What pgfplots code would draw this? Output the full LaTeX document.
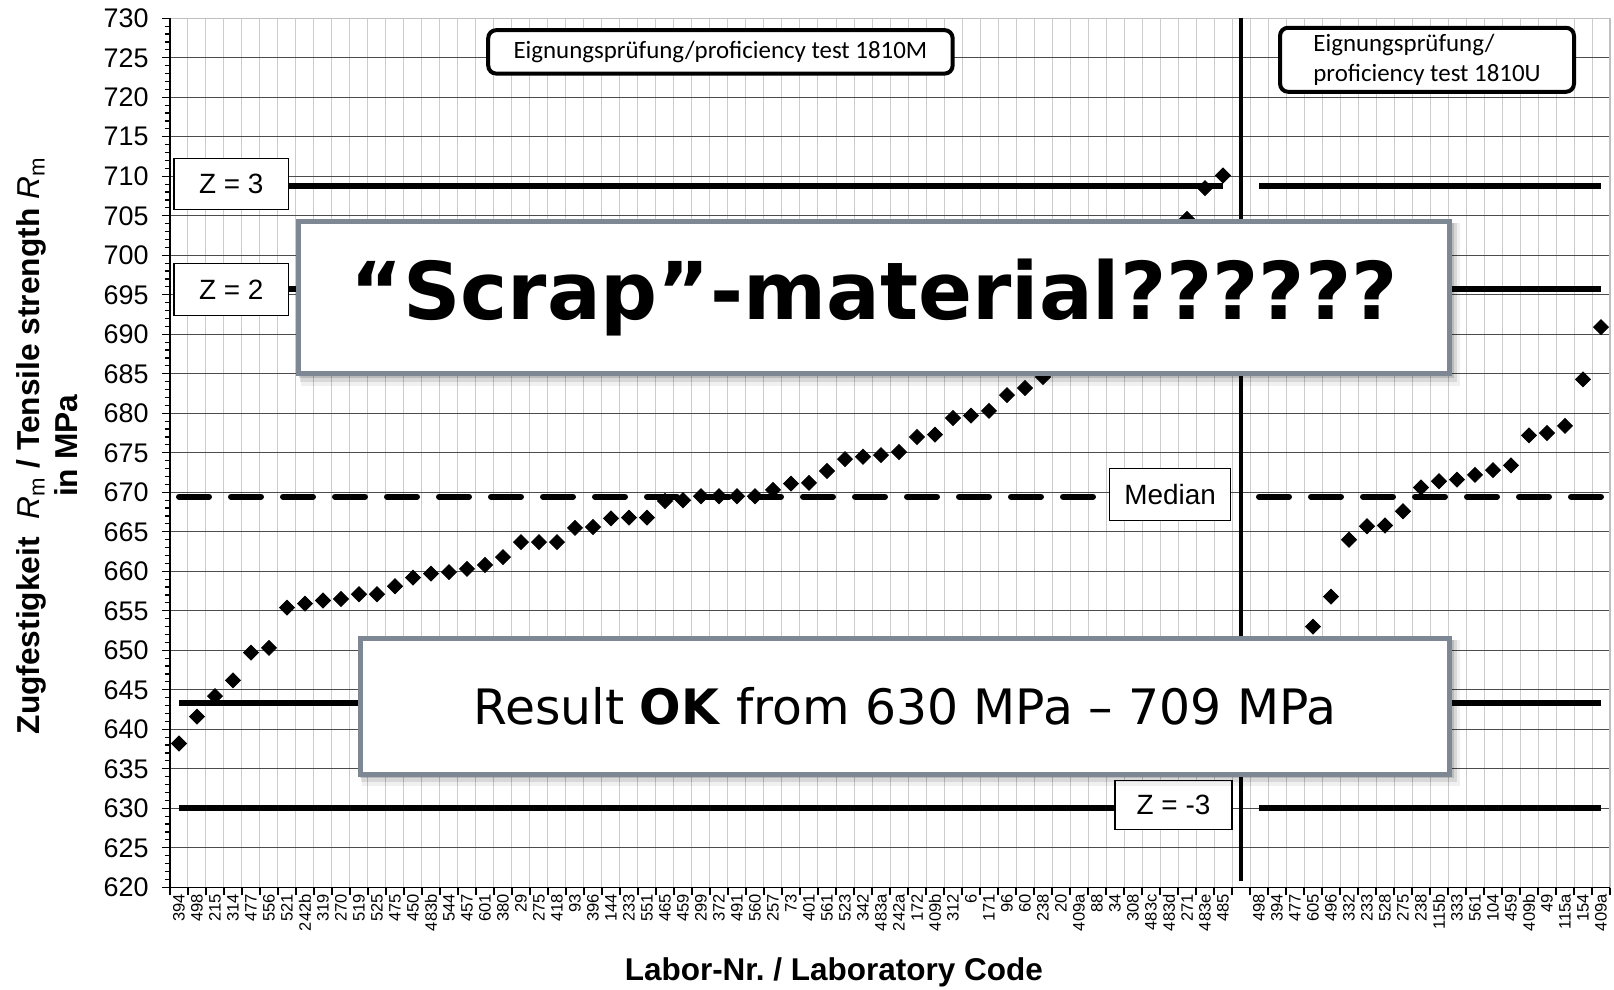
\documentclass[border=0pt]{standalone}
\usepackage{fontspec}
\setmainfont{Liberation Sans}
\newfontfamily\carlito{Carlito}
\newfontfamily\dejavu{DejaVu Sans}
\usepackage{pgfplots}
\pgfplotsset{compat=1.18}
\usetikzlibrary{calc}
\definecolor{boxgray}{HTML}{7D8894}
\frenchspacing

\pgfplotstableread{
x y
0 638.2
1 641.6
2 644.2
3 646.2
4 649.7
5 650.3
6 655.4
7 655.9
8 656.3
9 656.5
10 657.1
11 657.1
12 658.1
13 659.2
14 659.7
15 659.9
16 660.3
17 660.8
18 661.8
19 663.7
20 663.7
21 663.7
22 665.5
23 665.6
24 666.7
25 666.8
26 666.8
27 668.9
28 669.0
29 669.5
30 669.5
31 669.5
32 669.5
33 670.3
34 671.1
35 671.2
36 672.7
37 674.2
38 674.5
39 674.7
40 675.1
41 677.0
42 677.3
43 679.4
44 679.7
45 680.3
46 682.3
47 683.2
48 684.6
49 686.0
50 688.0
51 690.0
52 692.0
53 695.0
54 698.0
55 701.0
56 704.6
57 708.5
58 710.1
}\leftdata

\pgfplotstableread{
x y
60 638.0
61 644.0
62 649.0
63 653.0
64 656.8
65 664.0
66 665.7
67 665.8
68 667.6
69 670.6
70 671.4
71 671.6
72 672.2
73 672.8
74 673.4
75 677.2
76 677.5
77 678.4
78 684.3
79 690.9
}\rightdata

\newcommand{\Rm}{{\mdseries\itshape R}\textsubscript{\mdseries m}}

\begin{document}
\begin{tikzpicture}
\begin{axis}[
  at={(0,0)}, anchor=south west,
  scale only axis, width=720bp, height=434.5bp,
  xmin=-0.5, xmax=79.5, ymin=620, ymax=730,
  axis line style={draw=black!25, line width=0.6bp},
  tick align=outside, tick pos=left,
  major tick length=4bp, minor tick length=2.5bp,
  tick style={draw=black, line width=0.6bp},
  xtick={-0.5,0.5,...,79.5}, xticklabels={},
  ytick={620,625,...,730}, minor y tick num=4,
  xmajorgrids, ymajorgrids,
  every axis x grid/.style={draw=black!20, line width=0.5bp},
  every axis y grid/.style={draw=black!70, line width=0.5bp},
  extra x ticks={0,...,79},
  extra x tick labels={394,498,215,314,477,556,521,242b,319,270,519,525,475,450,483b,544,457,601,380,29,275,418,93,396,144,233,551,465,459,299,372,491,560,257,73,401,561,523,342,483a,242a,172,409b,312,6,171,96,60,238,20,409a,88,34,308,483c,483d,271,483e,485,{},498,394,477,605,496,332,233,528,275,238,115b,333,561,104,459,409b,49,115a,154,409a},
  extra x tick style={major tick length=0pt, grid=none,
     tick label style={rotate=90, anchor=east, font=\fontsize{8.3}{9}\selectfont}},
  yticklabel style={font=\fontsize{13.5}{15}\selectfont, /pgf/number format/assume math mode=true, xshift=-3.2bp},
  ylabel={Zugfestigkeit \ \Rm\ / Tensile strength \Rm\\in MPa},
  ylabel style={at={(axis description cs:-0.0854,0.508)}, anchor=center, align=center,
     font=\bfseries\fontsize{15.9}{19}\selectfont},
  xlabel={Labor-Nr. / Laboratory Code},
  xlabel style={at={(axis description cs:0.461,-0.098)}, anchor=center,
     font=\bfseries\fontsize{15.8}{18}\selectfont},
]
% reference lines
\addplot[black, line width=3bp] coordinates {(0,708.8) (58,708.8)};
\addplot[black, line width=3bp] coordinates {(60,708.8) (79,708.8)};
\addplot[black, line width=3bp] coordinates {(0,695.7) (58,695.7)};
\addplot[black, line width=3bp] coordinates {(60,695.7) (79,695.7)};
\addplot[black, line width=3bp, line cap=round, dash pattern=on 15bp off 11bp] coordinates {(0,669.45) (58,669.45)};
\addplot[black, line width=3bp, line cap=round, dash pattern=on 15bp off 11bp] coordinates {(60,669.45) (79,669.45)};
\addplot[black, line width=3bp] coordinates {(0,643.3) (58,643.3)};
\addplot[black, line width=3bp] coordinates {(60,643.3) (79,643.3)};
\addplot[black, line width=3bp] coordinates {(0,630.1) (58,630.1)};
\addplot[black, line width=3bp] coordinates {(60,630.1) (79,630.1)};
% divider
\addplot[black, line width=1.6bp] coordinates {(59,620.8) (59,730)};
% data
\addplot[only marks, mark=square*, mark size=2.65bp, mark options={rotate=45, fill=black, draw=black}] table[x=x, y=y] {\leftdata};
\addplot[only marks, mark=square*, mark size=2.65bp, mark options={rotate=45, fill=black, draw=black}] table[x=x, y=y] {\rightdata};
% named coordinates for annotations
\coordinate (axbl) at (axis description cs:0,0);
\coordinate (axtl) at (axis description cs:0,1);
\coordinate (axbr) at (axis description cs:1,0);
\coordinate (z3a) at (axis cs:-0.28,705.8);  \coordinate (z3b) at (axis cs:6.09,712.3);
\coordinate (z2a) at (axis cs:-0.28,692.4);  \coordinate (z2b) at (axis cs:6.09,699.0);
\coordinate (mda) at (axis cs:51.7,666.4);   \coordinate (mdb) at (axis cs:58.43,673.0);
\coordinate (zm3a) at (axis cs:52.0,627.3);  \coordinate (zm3b) at (axis cs:58.5,633.5);
\coordinate (tma) at (axis cs:17.18,723.0);  \coordinate (tmb) at (axis cs:42.98,728.5);
\coordinate (tua) at (axis cs:61.17,720.7);  \coordinate (tub) at (axis cs:77.5,728.8);
\coordinate (sca) at (axis cs:6.64,685.0);   \coordinate (scb) at (axis cs:70.6,704.3);
\coordinate (rea) at (axis cs:10.07,634.3);  \coordinate (reb) at (axis cs:70.6,651.5);
\end{axis}
% axis lines
\draw[black, line width=0.8bp] (axtl) -- (axbl) -- (axbr);
% label boxes
\draw[black, line width=0.6bp, fill=white] (z3a) rectangle (z3b);
\node[font=\fontsize{14}{16}\selectfont] at ($(z3a)!0.5!(z3b)$) {Z = 3};
\draw[black, line width=0.6bp, fill=white] (z2a) rectangle (z2b);
\node[font=\fontsize{14}{16}\selectfont] at ($(z2a)!0.5!(z2b)$) {Z = 2};
\draw[black, line width=0.6bp, fill=white] (mda) rectangle (mdb);
\node[font=\fontsize{14}{16}\selectfont] at ($(mda)!0.5!(mdb)$) {Median};
\draw[black, line width=0.6bp, fill=white] (zm3a) rectangle (zm3b);
\node[font=\fontsize{14}{16}\selectfont] at ($(zm3a)!0.5!(zm3b)$) {Z = -3};
% top boxes
\draw[black, line width=2bp, fill=white, rounded corners=4bp] (tma) rectangle (tmb);
\node[font=\carlito\fontsize{12.5}{15}\selectfont] at ($(tma)!0.5!(tmb)$) {Eignungsprüfung/proficiency test 1810M};
\draw[black, line width=2bp, fill=white, rounded corners=4bp] (tua) rectangle (tub);
\node[font=\carlito\fontsize{12.5}{15}\selectfont, align=left] at ($(tua)!0.5!(tub)$) {Eignungsprüfung/\\proficiency test 1810U};
% overlay boxes with soft shadow
\fill[black, opacity=0.06] ([xshift=1bp,yshift=-6bp]sca) rectangle ([xshift=5bp,yshift=-1bp]scb);
\fill[black, opacity=0.10] ([xshift=0.5bp,yshift=-4bp]sca) rectangle ([xshift=3.5bp,yshift=-1bp]scb);
\fill[black, opacity=0.14] ([xshift=0bp,yshift=-2bp]sca) rectangle ([xshift=2bp,yshift=-1bp]scb);
\draw[boxgray, line width=2.5bp, fill=white] (sca) rectangle (scb);
\node[font=\dejavu\bfseries\fontsize{40}{44}\selectfont] at ($(sca)!0.5!(scb)$) {“Scrap”-material??????};
\fill[black, opacity=0.06] ([xshift=1bp,yshift=-6bp]rea) rectangle ([xshift=5bp,yshift=-1bp]reb);
\fill[black, opacity=0.10] ([xshift=0.5bp,yshift=-4bp]rea) rectangle ([xshift=3.5bp,yshift=-1bp]reb);
\fill[black, opacity=0.14] ([xshift=0bp,yshift=-2bp]rea) rectangle ([xshift=2bp,yshift=-1bp]reb);
\draw[boxgray, line width=2.5bp, fill=white] (rea) rectangle (reb);
\node[font=\dejavu\fontsize{24.5}{28}\selectfont] at ($(rea)!0.5!(reb)$) {Result \textbf{OK} from 630 MPa – 709 MPa};
\pgfresetboundingbox
\useasboundingbox (-85bp,-51.35bp) rectangle (722bp,443.65bp);
\end{tikzpicture}
\end{document}
